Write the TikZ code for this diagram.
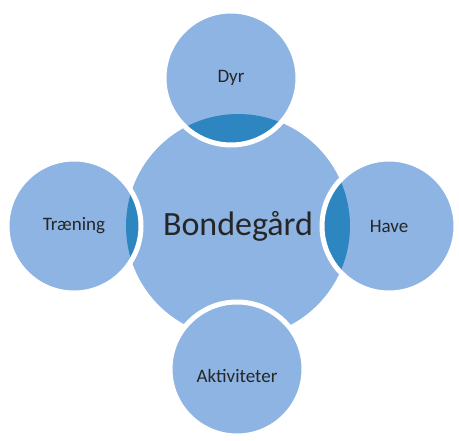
\documentclass[tikz,border=0pt]{standalone}
\usepackage{fontspec}
\setmainfont{Carlito}
\usepackage{xcolor}

\definecolor{venn}{RGB}{141,180,226}
\definecolor{lensblue}{RGB}{46,134,193}
\definecolor{ink}{RGB}{38,38,38}

\begin{document}
\begin{tikzpicture}[x=1pt,y=-1pt,
  hub/.style={circle,fill=venn,minimum size=224pt,inner sep=0pt,text=ink,font=\fontsize{34}{34}\selectfont},
  petal/.style={circle,fill=venn,minimum size=134pt,inner sep=0pt,text=ink,font=\fontsize{19}{19}\selectfont},
  ring/.style={draw=white,line width=5pt}]
\useasboundingbox (0,0) rectangle (459,441);

% centre
\node[hub] (farm) at (238,226) {Bondegård};

% petals round the centre
\node[petal] (dyr) at (231,78) {Dyr};
\node[petal] (have) at (389,226) {Have};
\node[petal] (traening) at (74,226) {Træning};

% darker overlaps
\begin{scope}
  \clip (farm.center) circle (112pt);
  \foreach \p in {dyr,have,traening}
    \fill[lensblue] (\p.center) circle (67pt);
\end{scope}
\foreach \p in {dyr,have,traening}
  \draw[ring] (\p.center) circle (67pt);

% bottom petal sits on top
\node[petal,ring,text height=27pt] (aktiviteter) at (237,369) {Aktiviteter};
\end{tikzpicture}
\end{document}
